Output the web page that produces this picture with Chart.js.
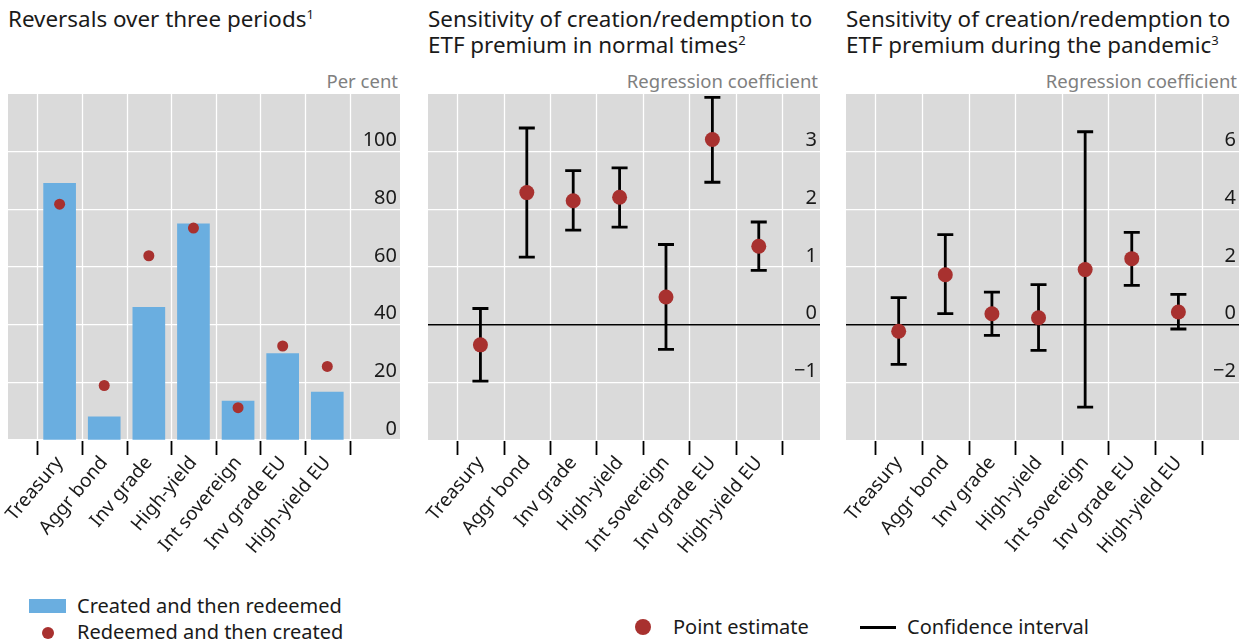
<!DOCTYPE html>
<html>
<head>
<meta charset="utf-8">
<script src="https://cdn.jsdelivr.net/npm/chart.js@4.4.1/dist/chart.umd.min.js"></script>
<style>
  body { margin: 0; width: 1246px; height: 642px; background: #fff; position: relative; overflow: hidden;
         font-family: "Noto Sans", "Open Sans", sans-serif; color: #1a1a1a; }
  .abs { position: absolute; white-space: nowrap; }
  .title { font-size: 22.4px; line-height: 26px; top: 6px; }
  .title sup { font-size: 13px; vertical-align: 0; position: relative; top: -8px; }
  .unit { font-size: 18.5px; line-height: 22px; top: 70px; color: #808080; text-align: right; }
  .leg { font-size: 20px; line-height: 24px; }
  canvas { position: absolute; top: 94px; }
</style>
</head>
<body>

<div class="abs title" style="left:8px">Reversals over three periods<sup>1</sup></div>
<div class="abs title" style="left:428px">Sensitivity of creation/redemption to<br>ETF premium in normal times<sup>2</sup></div>
<div class="abs title" style="left:846px">Sensitivity of creation/redemption to<br>ETF premium during the pandemic<sup>3</sup></div>

<div class="abs unit" style="right:848px">Per cent</div>
<div class="abs unit" style="right:428px">Regression coefficient</div>
<div class="abs unit" style="right:9px">Regression coefficient</div>

<canvas id="c1" width="400" height="476" style="left:0px"></canvas>
<canvas id="c2" width="408" height="476" style="left:412px"></canvas>
<canvas id="c3" width="409" height="476" style="left:830px"></canvas>

<!-- legends -->
<div class="abs" style="left:29px;top:599px;width:37px;height:14px;background:#6aaee0"></div>
<div class="abs leg" style="left:77px;top:594px">Created and then redeemed</div>
<div class="abs" style="left:42px;top:627px;width:12px;height:12px;border-radius:50%;background:#a8312f"></div>
<div class="abs leg" style="left:77px;top:620px">Redeemed and then created</div>

<div class="abs" style="left:635px;top:619px;width:16px;height:16px;border-radius:50%;background:#a8312f"></div>
<div class="abs leg" style="left:673px;top:615px">Point estimate</div>
<div class="abs" style="left:860px;top:626px;width:36px;height:2.5px;background:#000"></div>
<div class="abs leg" style="left:907px;top:615px">Confidence interval</div>

<script>
// ── Data ──────────────────────────────────────────────────────
const categories = ['Treasury', 'Aggr bond', 'Inv grade', 'High-yield', 'Int sovereign', 'Inv grade EU', 'High-yield EU'];

// panel 1, per cent
const createdRedeemed = [89, 8, 46, 75, 13.5, 30, 16.6];
const redeemedCreated = [81.8, 18.9, 63.9, 73.5, 11.2, 32.6, 25.5];

// panel 2, normal times
const normalEst = [-0.35, 2.29, 2.15, 2.21, 0.48, 3.21, 1.36];
const normalLo  = [-0.98, 1.17, 1.64, 1.69, -0.43, 2.47, 0.94];
const normalHi  = [0.28, 3.41, 2.67, 2.72, 1.39, 3.94, 1.78];

// panel 3, pandemic
const pandemicEst = [-0.23, 1.73, 0.38, 0.24, 1.91, 2.29, 0.44];
const pandemicLo  = [-1.38, 0.38, -0.37, -0.89, -2.86, 1.36, -0.15];
const pandemicHi  = [0.94, 3.12, 1.13, 1.39, 6.69, 3.2, 1.05];

// y axes: range, step and the tick labels that are printed
const yRange1 = { min: 0, max: 120, step: 20 };
const yRange2 = { min: -2, max: 4, step: 1 };
const yRange3 = { min: -4, max: 8, step: 2 };
const yLabels1 = [0, 20, 40, 60, 80, 100];
const yLabels2 = [-1, 0, 1, 2, 3];
const yLabels3 = [-2, 0, 2, 4, 6];

// ── Styling ───────────────────────────────────────────────────
const FONT   = '"Noto Sans", "Open Sans", sans-serif';
const BLUE   = '#6aaee0';
const RED    = '#a8312f';
const PLOTBG = '#dadada';

Chart.defaults.font.family = FONT;
Chart.defaults.color = '#1a1a1a';

const plotBg = {
  id: 'plotBg',
  beforeDraw(chart) {
    const { ctx, chartArea: a } = chart;
    ctx.save();
    ctx.fillStyle = PLOTBG;
    ctx.fillRect(a.left, a.top, a.right - a.left, a.bottom - a.top);
    ctx.restore();
  }
};

// category separators: white lines in the plot, black ticks below it
const catGrid = {
  id: 'catGrid',
  beforeDatasetsDraw(chart) {
    const { ctx, chartArea: a, scales: { x } } = chart;
    ctx.save();
    for (let i = 0; i <= categories.length; i++) {
      const px = Math.round(x.getPixelForValue(i - 0.5)) + 0.5;
      ctx.strokeStyle = '#ffffff';
      ctx.lineWidth = 1.3;
      ctx.beginPath();
      ctx.moveTo(px, a.top); ctx.lineTo(px, a.bottom);
      ctx.stroke();
      ctx.strokeStyle = '#000';
      ctx.lineWidth = 1.8;
      ctx.beginPath();
      ctx.moveTo(px, a.bottom + 1); ctx.lineTo(px, a.bottom + 15);
      ctx.stroke();
    }
    ctx.restore();
  }
};

// zero line + error bars, drawn under the points
const errorBars = (lo, hi) => ({
  id: 'errorBars',
  beforeDatasetsDraw(chart) {
    const { ctx, chartArea: a, scales: { x, y } } = chart;
    ctx.save();
    const y0 = y.getPixelForValue(0);
    ctx.strokeStyle = '#000';
    ctx.lineWidth = 1.5;
    ctx.beginPath();
    ctx.moveTo(a.left, y0);
    ctx.lineTo(a.right, y0);
    ctx.stroke();

    ctx.lineWidth = 2.8;
    lo.forEach((l, i) => {
      const px = x.getPixelForValue(i);
      const pl = y.getPixelForValue(l);
      const ph = y.getPixelForValue(hi[i]);
      ctx.beginPath();
      ctx.moveTo(px, pl); ctx.lineTo(px, ph);
      ctx.moveTo(px - 8, pl); ctx.lineTo(px + 8, pl);
      ctx.moveTo(px - 8, ph); ctx.lineTo(px + 8, ph);
      ctx.stroke();
    });
    ctx.restore();
  }
});

const xAxis = (min, max) => ({
  type: 'linear',
  min, max,
  offset: false,
  afterFit: s => { s.height = 130; s.paddingLeft = 0; s.paddingRight = 0; },
  border: { display: false },
  grid: { display: false },
  ticks: {
    stepSize: 1,
    includeBounds: false,
    autoSkip: false,
    minRotation: 50,
    maxRotation: 50,
    padding: 4,
    color: '#1a1a1a',
    font: { size: 19 },
    callback: v => (Number.isInteger(v) && categories[v]) ? categories[v] : null
  }
});

const yAxis = (r, shown) => ({
  type: 'linear',
  position: 'right',
  min: r.min, max: r.max,
  afterFit: s => { s.width = 0; s.paddingTop = 0; s.paddingBottom = 0; },
  border: { display: false },
  grid: { color: '#ffffff', lineWidth: 1.3, drawTicks: false },
  ticks: {
    stepSize: r.step,
    mirror: true,
    padding: -3,
    labelOffset: -11,
    color: '#1a1a1a',
    font: { size: 20 },
    callback: v => shown.includes(v) ? String(v).replace('-', '\u2212') : null
  }
});

const baseOptions = (xmin, xmax, r, shown, padLeft) => ({
  responsive: false,
  animation: false,
  events: [],
  layout: { padding: { left: padLeft, right: 0, top: 0, bottom: 0 }, autoPadding: false },
  plugins: { legend: { display: false }, tooltip: { enabled: false } },
  scales: { x: xAxis(xmin, xmax), y: yAxis(r, shown) }
});

// ── Panel 1: reversals ────────────────────────────────────────
new Chart(document.getElementById('c1'), {
  type: 'bar',
  data: {
    datasets: [
      {
        type: 'scatter',
        label: 'Redeemed and then created',
        data: redeemedCreated.map((v, i) => ({ x: i, y: v })),
        backgroundColor: RED,
        borderWidth: 0,
        pointRadius: 5.5,
        order: 0
      },
      {
        type: 'bar',
        label: 'Created and then redeemed',
        data: createdRedeemed.map((v, i) => ({ x: i, y: v })),
        backgroundColor: BLUE,
        barThickness: 32,
        order: 1
      }
    ]
  },
  options: baseOptions(-1.157, 7.63, yRange1, yLabels1, 8),
  plugins: [plotBg, catGrid]
});

// ── Panels 2 and 3: regression coefficients ───────────────────
const coefChart = (id, est, lo, hi, xmin, xmax, r, shown) => new Chart(document.getElementById(id), {
  type: 'scatter',
  data: {
    datasets: [{
      label: 'Point estimate',
      data: est.map((v, i) => ({ x: i, y: v })),
      backgroundColor: RED,
      borderWidth: 0,
      pointRadius: 7.5
    }]
  },
  options: baseOptions(xmin, xmax, r, shown, 16),
  plugins: [plotBg, catGrid, errorBars(lo, hi)]
});

coefChart('c2', normalEst, normalLo, normalHi, -1.13, 7.32, yRange2, yLabels2);
coefChart('c3', pandemicEst, pandemicLo, pandemicHi, -1.13, 7.3, yRange3, yLabels3);
</script>
</body>
</html>
